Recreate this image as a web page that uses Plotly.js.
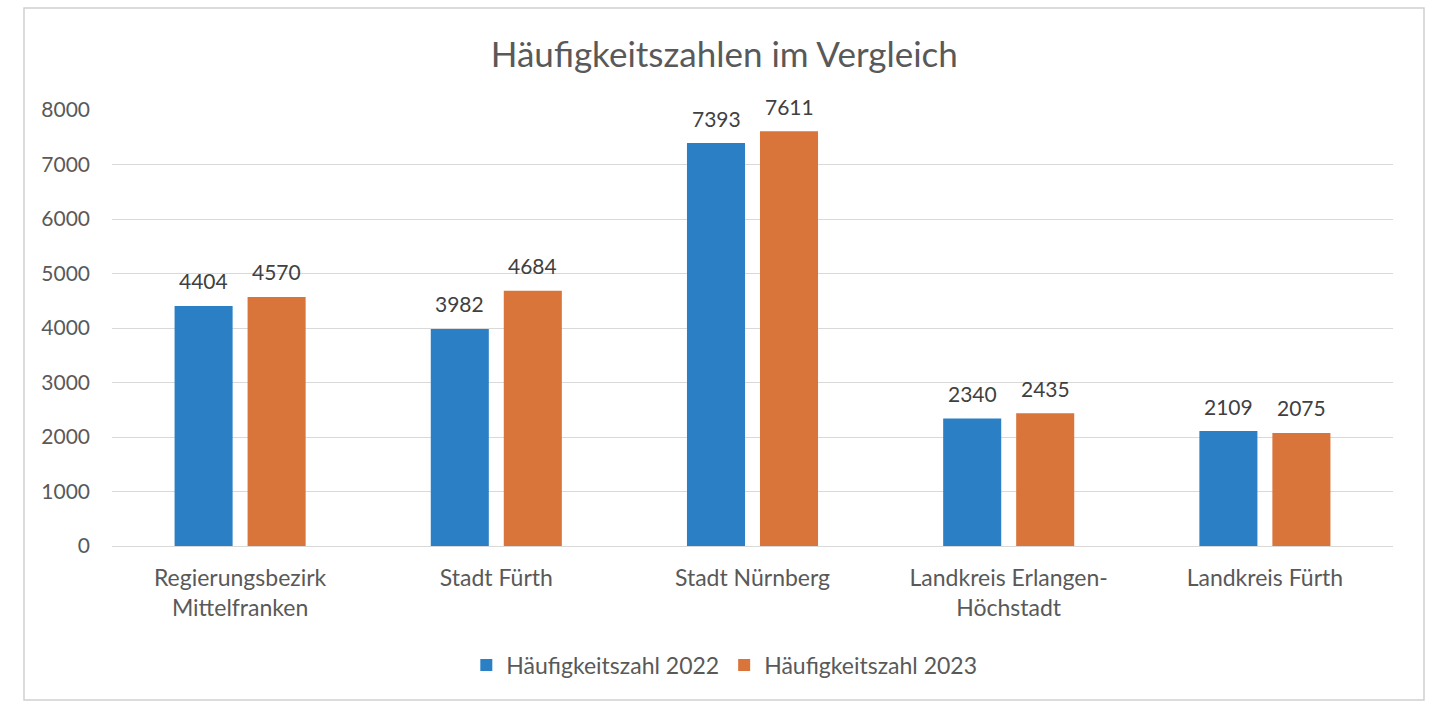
<!DOCTYPE html>
<html>
<head>
<meta charset="utf-8">
<script src="https://cdn.plot.ly/plotly-3.0.1.min.js"></script>
<style>html,body{margin:0;padding:0;background:#fff;}#chart{width:1429px;height:703px;}</style>
</head>
<body>
<div id="chart"></div>
<script>
const categories = ["Regierungsbezirk<br>Mittelfranken", "Stadt Fürth", "Stadt Nürnberg", "Landkreis Erlangen-<br>Höchstadt", "Landkreis Fürth"];
const values2022 = [4404, 3982, 7393, 2340, 2109];
const values2023 = [4570, 4684, 7611, 2435, 2075];
const seriesNames = ["Häufigkeitszahl 2022", "Häufigkeitszahl 2023"];
const yTicks = [0, 1000, 2000, 3000, 4000, 5000, 6000, 7000, 8000];

const font = "Lato, 'Open Sans', sans-serif";
const textColor = "#595959";
const colors = ["#2b80c5", "#d9743a"];

const traces = [
  {type: "bar", name: seriesNames[0], x: categories, y: values2022, marker: {color: colors[0]}},
  {type: "bar", name: seriesNames[1], x: categories, y: values2023, marker: {color: colors[1]}}
];

// data labels above each bar (positioned via data coordinates, shifted to the group slot)
const annotations = [];
[values2022, values2023].forEach((vals, s) => {
  vals.forEach((v, i) => {
    annotations.push({x: categories[i], y: v, xref: "x", yref: "y", text: String(v), showarrow: false,
      xshift: s === 0 ? -36.5 : 36.5, yshift: 25, yanchor: "middle", xanchor: "center",
      font: {size: 21, color: "#404040", family: font}});
  });
});

const layout = {
  width: 1429, height: 703,
  margin: {l: 112, r: 36, t: 110, b: 157},
  paper_bgcolor: "#fff", plot_bgcolor: "#fff",
  font: {family: font, color: textColor, size: 18},
  title: {text: "Häufigkeitszahlen im Vergleich", font: {size: 35, color: textColor, family: font},
          x: 0.478, xanchor: "center", y: 0.922, yanchor: "middle", xref: "paper"},
  barmode: "group", bargap: 0.43, bargroupgap: 0.205,
  xaxis: {showgrid: false, showline: false, zeroline: false, ticks: "", tickfont: {size: 23, color: textColor},
          ticklabelstandoff: 16, fixedrange: true},
  yaxis: {range: [0, 8000], tickvals: yTicks, ticktext: yTicks.map(String), showgrid: true, gridcolor: "#d9d9d9",
          gridwidth: 1, zeroline: true, zerolinecolor: "#d9d9d9", showline: false, ticks: "",
          tickfont: {size: 21, color: textColor}, ticklabelstandoff: 21, fixedrange: true},
  showlegend: true,
  legend: {orientation: "h", x: 0.478, xanchor: "center", y: -0.273, yanchor: "middle",
           font: {size: 23, color: textColor}, traceorder: "normal", itemwidth: 30},
  annotations: annotations,
  shapes: [{type: "rect", xref: "paper", yref: "paper", x0: -0.0687, x1: 1.0242, y0: -0.353, y1: 1.234,
            line: {color: "#d0d0d0", width: 1.5}, fillcolor: "rgba(0,0,0,0)", layer: "below"}]
};

Plotly.newPlot("chart", traces, layout, {displayModeBar: false, staticPlot: true});
</script>
</body>
</html>
